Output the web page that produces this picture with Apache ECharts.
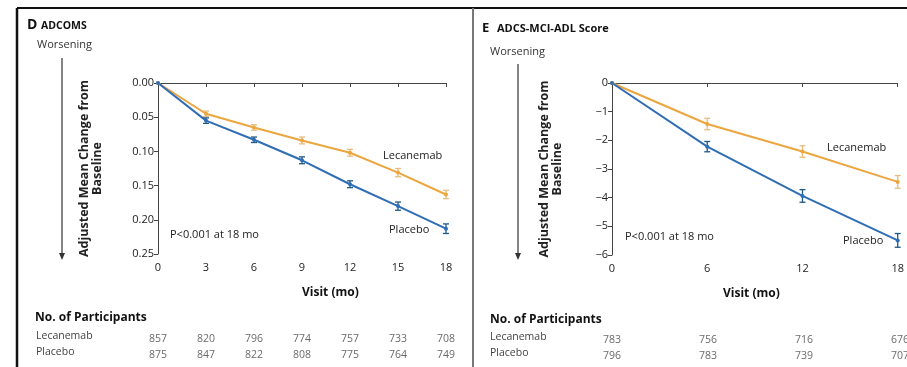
<!DOCTYPE html>
<html>
<head>
<meta charset="utf-8">
<script src="https://cdn.jsdelivr.net/npm/echarts@6/dist/echarts.min.js"></script>
<style>
  html, body { margin: 0; padding: 0; background: #fff; }
  #chart { width: 907px; height: 367px; }
</style>
</head>
<body>
<div id="chart"></div>
<script>
// panel D: ADCOMS
var adcomsMonths = [0, 3, 6, 9, 12, 15, 18];
var adcomsLec    = [0, 0.045, 0.065, 0.084, 0.102, 0.131, 0.163];
var adcomsLecErr = [0, 0.004, 0.004, 0.005, 0.005, 0.006, 0.006];
var adcomsPla    = [0, 0.055, 0.083, 0.113, 0.148, 0.180, 0.213];
var adcomsPlaErr = [0, 0.004, 0.004, 0.005, 0.005, 0.006, 0.007];
var adcomsNLec   = [857, 820, 796, 774, 757, 733, 708];
var adcomsNPla   = [875, 847, 822, 808, 775, 764, 749];

// panel E: ADCS-MCI-ADL
var adlMonths = [0, 6, 12, 18];
var adlLec    = [0, -1.43, -2.39, -3.45];
var adlLecErr = [0, 0.2, 0.2, 0.22];
var adlPla    = [0, -2.22, -3.94, -5.49];
var adlPlaErr = [0, 0.18, 0.22, 0.24];
var adlNLec   = [783, 756, 716, 676];
var adlNPla   = [796, 783, 739, 707];

var rowNames = ['Placebo', 'Lecanemab'];

var lecColor = '#EBA63E';
var plaColor = '#2F6DB5';
var lecErrColor = '#E9BB7E';
var plaErrColor = '#1E5A86';
var font = '"Open Sans", sans-serif';

function zip(xs, ys, es) {
    return xs.map(function (x, i) { return es ? [x, ys[i], es[i]] : [x, ys[i]]; });
}
function countRow(xs, ns, row) {
    return xs.map(function (x, i) { return [x, row, ns[i]]; });
}

function errorBars(xi, yi, data, color) {
    return {
        type: 'custom',
        xAxisIndex: xi,
        yAxisIndex: yi,
        z: 3,
        data: data,
        renderItem: function (params, api) {
            var x = api.value(0), y = api.value(1), e = api.value(2);
            if (!e) return;
            var hi = api.coord([x, y - e]);
            var lo = api.coord([x, y + e]);
            var w = 3;
            var st = { stroke: color, lineWidth: 1.3 };
            return {
                type: 'group',
                children: [
                    { type: 'line', shape: { x1: hi[0], y1: hi[1], x2: lo[0], y2: lo[1] }, style: st },
                    { type: 'line', shape: { x1: hi[0] - w, y1: hi[1], x2: hi[0] + w, y2: hi[1] }, style: st },
                    { type: 'line', shape: { x1: lo[0] - w, y1: lo[1], x2: lo[0] + w, y2: lo[1] }, style: st }
                ]
            };
        }
    };
}

function lineSeries(xi, yi, data, color) {
    return {
        type: 'line',
        xAxisIndex: xi,
        yAxisIndex: yi,
        data: data,
        symbol: 'circle',
        symbolSize: 4,
        z: 4,
        lineStyle: { color: color, width: 2 },
        itemStyle: { color: color },
        animation: false
    };
}

function countSeries(xi, yi, data) {
    return {
        type: 'scatter',
        xAxisIndex: xi,
        yAxisIndex: yi,
        data: data,
        symbolSize: 1,
        itemStyle: { color: 'rgba(0,0,0,0)' },
        label: {
            show: true,
            position: 'inside',
            formatter: function (p) { return p.value[2]; },
            color: '#444',
            fontSize: 10.5,
            fontFamily: font
        },
        silent: true
    };
}

var axisLine = { show: true, lineStyle: { color: '#444', width: 1 } };
var axisTick = { show: true, length: 4, lineStyle: { color: '#444' } };
var axisLabel = { color: '#222', fontSize: 11, fontFamily: font };
var yName = 'Adjusted Mean Change from\nBaseline';
var yNameStyle = { color: '#222', fontSize: 12.5, fontWeight: 'bold', fontFamily: font, lineHeight: 13 };

function txt(x, y, text, size, weight, color, align) {
    return {
        type: 'text', left: x, top: y,
        style: {
            text: text, fontSize: size, fontWeight: weight || 'normal',
            fill: color || '#222', fontFamily: font, align: align || 'left'
        }
    };
}
function arrow(x, y1, y2) {
    return [
        { type: 'line', shape: { x1: x, y1: y1, x2: x, y2: y2 - 5 }, style: { stroke: '#333', lineWidth: 1.2 } },
        { type: 'polygon', shape: { points: [[x - 3, y2 - 7], [x + 3, y2 - 7], [x, y2]] }, style: { fill: '#333' } }
    ];
}

var chart = echarts.init(document.getElementById('chart'));
chart.setOption({
    backgroundColor: '#fff',
    animation: false,
    grid: [
        { left: 158, top: 83, width: 288, height: 171 },
        { left: 612, top: 83, width: 288, height: 172 },
        { left: 158, top: 331, width: 288, height: 32 },
        { left: 612, top: 332, width: 288, height: 32 }
    ],
    xAxis: [
        { gridIndex: 0, type: 'value', min: 0, max: 18, interval: 3, axisLine: axisLine, axisTick: axisTick,
          axisLabel: Object.assign({ margin: 8 }, axisLabel), splitLine: { show: false } },
        { gridIndex: 1, type: 'value', min: 0, max: 18, interval: 6, axisLine: axisLine, axisTick: axisTick,
          axisLabel: Object.assign({ margin: 8 }, axisLabel), splitLine: { show: false } },
        { gridIndex: 2, type: 'value', min: 0, max: 18, show: false },
        { gridIndex: 3, type: 'value', min: 0, max: 18, show: false }
    ],
    yAxis: [
        { gridIndex: 0, type: 'value', inverse: true, min: 0, max: 0.25, interval: 0.05,
          axisLine: axisLine, axisTick: axisTick, splitLine: { show: false },
          axisLabel: Object.assign({ margin: 4, formatter: function (v) { return v.toFixed(2); } }, axisLabel),
          name: yName, nameLocation: 'middle', nameGap: 54, nameTextStyle: yNameStyle },
        { gridIndex: 1, type: 'value', min: -6, max: 0, interval: 1,
          axisLine: axisLine, axisTick: axisTick, splitLine: { show: false },
          axisLabel: Object.assign({ margin: 4, formatter: function (v) { return String(v).replace('-', '\u2212'); } }, axisLabel),
          name: yName, nameLocation: 'middle', nameGap: 48, nameTextStyle: yNameStyle },
        { gridIndex: 2, type: 'category', data: rowNames, show: false },
        { gridIndex: 3, type: 'category', data: rowNames, show: false }
    ],
    series: [
        lineSeries(0, 0, zip(adcomsMonths, adcomsLec), lecColor),
        lineSeries(0, 0, zip(adcomsMonths, adcomsPla), plaColor),
        errorBars(0, 0, zip(adcomsMonths, adcomsLec, adcomsLecErr), lecErrColor),
        errorBars(0, 0, zip(adcomsMonths, adcomsPla, adcomsPlaErr), plaErrColor),
        lineSeries(1, 1, zip(adlMonths, adlLec), lecColor),
        lineSeries(1, 1, zip(adlMonths, adlPla), plaColor),
        errorBars(1, 1, zip(adlMonths, adlLec, adlLecErr.map(function (e) { return -e; })), lecErrColor),
        errorBars(1, 1, zip(adlMonths, adlPla, adlPlaErr.map(function (e) { return -e; })), plaErrColor),
        countSeries(2, 2, countRow(adcomsMonths, adcomsNLec, 'Lecanemab')),
        countSeries(2, 2, countRow(adcomsMonths, adcomsNPla, 'Placebo')),
        countSeries(3, 3, countRow(adlMonths, adlNLec, 'Lecanemab')),
        countSeries(3, 3, countRow(adlMonths, adlNPla, 'Placebo'))
    ],
    graphic: [
        // frame
        { type: 'line', shape: { x1: 17, y1: 8, x2: 907, y2: 8 }, style: { stroke: '#111', lineWidth: 2 } },
        { type: 'line', shape: { x1: 17, y1: 8, x2: 17, y2: 367 }, style: { stroke: '#111', lineWidth: 2.5 } },
        { type: 'line', shape: { x1: 473, y1: 8, x2: 473, y2: 367 }, style: { stroke: '#777', lineWidth: 2 } },
        // titles
        txt(27, 18, 'D', 14, 'bold', '#111'),
        txt(41, 21, 'ADCOMS', 10.5, 'bold', '#111'),
        txt(482, 22, 'E', 13, 'bold', '#111'),
        txt(497, 23, 'ADCS-MCI-ADL Score', 11, 'bold', '#111'),
        txt(37, 39, 'Worsening', 11, 'normal', '#333'),
        txt(490, 46, 'Worsening', 11, 'normal', '#333')
    ].concat(arrow(62, 58, 260), arrow(518, 64, 260), [
        txt(170, 229, 'P<0.001 at 18 mo', 11, 'normal', '#222'),
        txt(625, 231, 'P<0.001 at 18 mo', 11, 'normal', '#222'),
        txt(383, 150, 'Lecanemab', 11, 'normal', '#222'),
        txt(389, 224, 'Placebo', 11, 'normal', '#222'),
        txt(827, 142, 'Lecanemab', 11, 'normal', '#222'),
        txt(843, 235, 'Placebo', 11, 'normal', '#222'),
        txt(302, 287, 'Visit (mo)', 12, 'bold', '#111', 'center'),
        txt(723, 288, 'Visit (mo)', 12, 'bold', '#111', 'center'),
        txt(35, 312, 'No. of Participants', 12, 'bold', '#111'),
        txt(490, 314, 'No. of Participants', 12, 'bold', '#111'),
        txt(36, 331, 'Lecanemab', 10.5, 'normal', '#444'),
        txt(36, 347, 'Placebo', 10.5, 'normal', '#444'),
        txt(490, 332, 'Lecanemab', 10.5, 'normal', '#444'),
        txt(490, 348, 'Placebo', 10.5, 'normal', '#444')
    ])
});
</script>
</body>
</html>
